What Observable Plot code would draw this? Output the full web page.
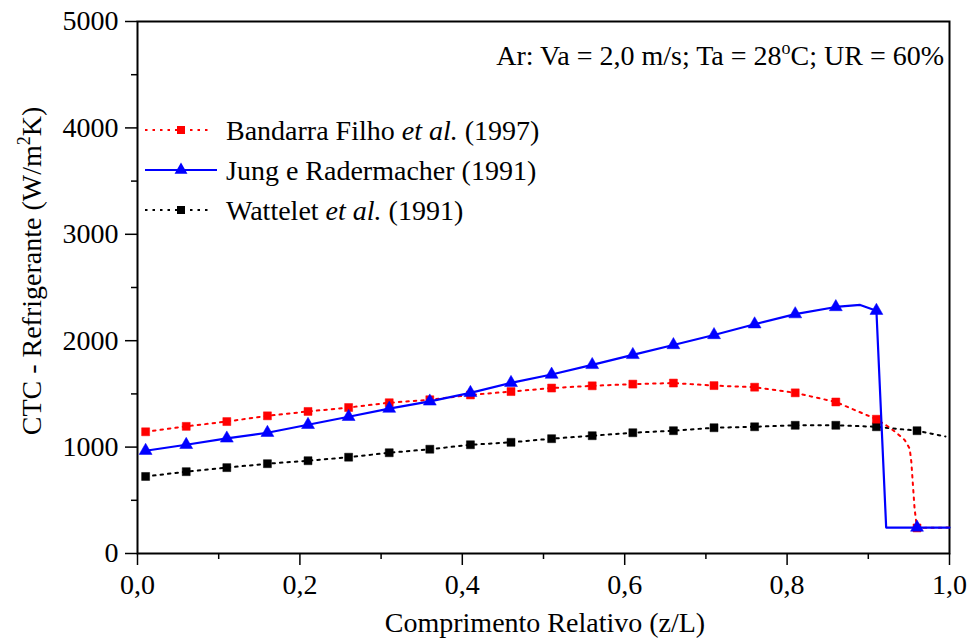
<!DOCTYPE html>
<html><head><meta charset="utf-8">
<script src="https://cdn.jsdelivr.net/npm/d3@7"></script>
<script src="https://cdn.jsdelivr.net/npm/@observablehq/plot@0.6"></script>
<style>
body{margin:0;background:#fff} svg{display:block}
svg text{font-family:'Liberation Serif','Times New Roman',serif !important;}
</style>
</head><body><div id="chart"></div>
<script>
// marker positions (z/L)
const markerX = [0.01,0.06,0.11,0.16,0.21,0.26,0.31,0.36,0.41,0.46,0.51,0.56,0.61,0.66,0.71,0.76,0.81,0.86,0.91,0.96];
// CTC values at markers (W/m2K)
const bandarra = [1144,1195,1240,1294,1335,1372,1417,1445,1490,1522,1555,1576,1592,1602,1578,1563,1510,1424,1262,240];
const jung     = [966,1022,1082,1135,1210,1285,1362,1430,1510,1604,1682,1773,1867,1960,2054,2155,2250,2317,2282,244];
const wattelet = [724,769,807,844,872,905,947,980,1022,1045,1079,1107,1135,1154,1182,1191,1205,1205,1191,1154];
// extra curve vertices read between / after markers
const bandarraExtraX = [0.925,0.935,0.945,0.951,0.953,0.955,0.957,1.0];
const bandarraExtraY = [1190,1132,1065,985,860,640,420,244];
const jungExtraX = [0.89,0.922,1.0];
const jungExtraY = [2336,244,244];
const watteletExtraX = [0.995];
const watteletExtraY = [1100];
// axis ticks
const yMajor = [0,1000,2000,3000,4000,5000];
const yMinor = [500,1500,2500,3500,4500];
const xMajor = [0,0.2,0.4,0.6,0.8,1.0];
const xMinor = [0.1,0.3,0.5,0.7,0.9];
// legend labels
const seriesNames = [["Bandarra Filho ","et al.", " (1997)"],["Jung e Radermacher (1991)","",""],["Wattelet ","et al."," (1991)"]];

const pts = (xs, ys) => xs.map((x,i)=>({x, y: ys[i]}));
const curve = (a, b) => a.concat(b).sort((p,q)=>p.x-q.x);
const redPts = pts(markerX, bandarra), bluePts = pts(markerX, jung), blackPts = pts(markerX, wattelet);
const redLine = curve(redPts, pts(bandarraExtraX, bandarraExtraY));
const blueLine = curve(bluePts, pts(jungExtraX, jungExtraY));
const blackLine = curve(blackPts, pts(watteletExtraX, watteletExtraY));

const FONT = "'Liberation Serif', 'Times New Roman', serif";
const RED = "#ff0000", BLUE = "#0000ff", BLACK = "#000000";
const dash = "2.5,5";

const plot = Plot.plot({
  width: 973, height: 643,
  marginLeft: 137, marginRight: 24, marginTop: 21, marginBottom: 90,
  x: {domain: [0, 1], label: null},
  y: {domain: [0, 5000], label: null},
  style: {fontFamily: FONT, fontSize: "28px", color: "black", background: "white"},
  marks: [
    Plot.axisY(yMinor, {tickSize: 6, tickFormat: () => "", strokeWidth: 1.5, label: null}),
    Plot.axisY(yMajor, {tickSize: 12, tickPadding: 7, tickFormat: d => String(d), strokeWidth: 1.5, fontSize: 28, label: null}),
    Plot.axisX(xMinor, {tickSize: 6, tickFormat: () => "", strokeWidth: 1.5, label: null}),
    Plot.axisX(xMajor, {tickSize: 12, tickPadding: 9, tickFormat: d => d.toFixed(1).replace(".", ","), strokeWidth: 1.5, fontSize: 28, label: null}),
    Plot.frame({stroke: "black", strokeWidth: 2}),
    Plot.line(blackLine, {x: "x", y: "y", stroke: BLACK, strokeWidth: 2, strokeDasharray: dash}),
    Plot.dot(blackPts, {x: "x", y: "y", symbol: "square", r: 4.5, fill: BLACK, stroke: BLACK, strokeWidth: 0.5}),
    Plot.line(redLine, {x: "x", y: "y", stroke: RED, strokeWidth: 2, strokeDasharray: dash}),
    Plot.dot(redPts, {x: "x", y: "y", symbol: "square", r: 4.5, fill: RED, stroke: RED, strokeWidth: 0.5}),
    Plot.line(blueLine, {x: "x", y: "y", stroke: BLUE, strokeWidth: 2.2}),
    Plot.dot(bluePts, {x: "x", y: "y", symbol: "triangle", r: 4.8, fill: BLUE, stroke: BLUE, strokeWidth: 0.5})
  ]
});
document.getElementById("chart").appendChild(plot);

const svg = d3.select(plot);
// annotation
const ann = svg.append("text").attr("x", 944).attr("y", 65).attr("text-anchor", "end")
  .attr("font-family", FONT).attr("font-size", 28).attr("fill", "black");
ann.append("tspan").text("Ar: Va = 2,0 m/s; Ta = 28");
ann.append("tspan").attr("font-size", 18).attr("dy", -11).text("o");
ann.append("tspan").attr("dy", 11).text("C; UR = 60%");

// y label
const yl = svg.append("text").attr("transform", "translate(41,271) rotate(-90)").attr("text-anchor", "middle")
  .attr("font-family", FONT).attr("font-size", 28).attr("fill", "black");
yl.append("tspan").text("CTC - Refrigerante (W/m");
yl.append("tspan").attr("font-size", 18).attr("dy", -11).text("2");
yl.append("tspan").attr("dy", 11).text("K)");

// x label
svg.append("text").attr("x", 545).attr("y", 632).attr("text-anchor", "middle")
  .attr("font-family", FONT).attr("font-size", 28).attr("fill", "black").text("Comprimento Relativo (z/L)");

// legend
const legendRows = [
  {y: 130, color: RED, dash: dash, sym: d3.symbolSquare, size: 64, x1: 145, x2: 212},
  {y: 170, color: BLUE, dash: null, sym: d3.symbolTriangle, size: 72, x1: 145, x2: 217},
  {y: 210, color: BLACK, dash: dash, sym: d3.symbolSquare, size: 64, x1: 145, x2: 212}
];
legendRows.forEach((r, i) => {
  const g = svg.append("g");
  g.append("line").attr("x1", r.x1).attr("x2", r.x2).attr("y1", r.y).attr("y2", r.y)
    .attr("stroke", r.color).attr("stroke-width", 2).attr("stroke-dasharray", r.dash);
  g.append("path").attr("d", d3.symbol(r.sym, r.size)()).attr("transform", `translate(181,${r.y})`).attr("fill", r.color);
  const t = g.append("text").attr("x", 226).attr("y", r.y + 9.5).attr("text-anchor", "start")
    .attr("font-family", FONT).attr("font-size", 28).attr("fill", "black");
  const parts = seriesNames[i];
  t.append("tspan").text(parts[0]);
  if (parts[1]) t.append("tspan").attr("font-style", "italic").text(parts[1]);
  if (parts[2]) t.append("tspan").text(parts[2]);
});
</script>
</body></html>
